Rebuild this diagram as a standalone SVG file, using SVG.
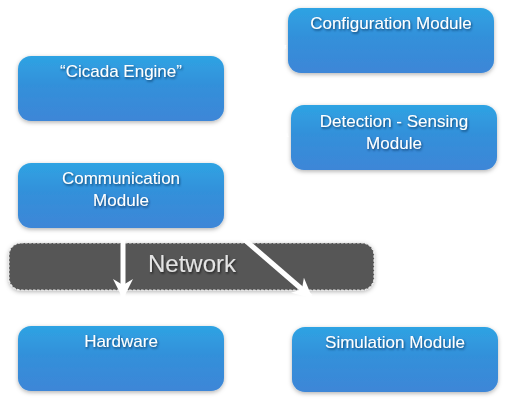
<svg xmlns="http://www.w3.org/2000/svg" width="506" height="401" viewBox="0 0 506 401">
<defs>
<linearGradient id="blue" x1="0" y1="0" x2="0" y2="1">
<stop offset="0" stop-color="#2ea3e3"/>
<stop offset="0.45" stop-color="#3390da"/>
<stop offset="1" stop-color="#3d86d7"/>
</linearGradient>
<filter id="boxShadow" x="-10%" y="-20%" width="120%" height="150%">
<feDropShadow dx="0" dy="1.5" stdDeviation="2.2" flood-color="#000" flood-opacity="0.3"/>
</filter>
<filter id="textShadow" x="-10%" y="-30%" width="120%" height="170%">
<feDropShadow dx="1" dy="1.5" stdDeviation="1" flood-color="#0a2a50" flood-opacity="0.75"/>
</filter>
<filter id="netTextShadow" x="-10%" y="-30%" width="120%" height="170%">
<feDropShadow dx="1" dy="1.5" stdDeviation="1" flood-color="#000" flood-opacity="0.6"/>
</filter>
<marker id="arrow" viewBox="0 0 10 10" refX="9" refY="5" markerWidth="4" markerHeight="4" orient="auto" markerUnits="strokeWidth">
<path d="M0,0 L10,5 L0,10 L3,5 Z" fill="#ffffff"/>
</marker>
</defs>
<style>
.box { fill: url(#blue); filter: url(#boxShadow); }
.lbl { fill: #ffffff; font-family: "Liberation Sans", Arial, sans-serif; font-size: 17px; text-anchor: middle; filter: url(#textShadow); }
.net { fill: #575757; stroke: #e6e6e6; stroke-width: 1.2; stroke-dasharray: 2.5 1.5; filter: url(#boxShadow); }
.netlbl { fill: #e4e4e4; font-family: "Liberation Sans", Arial, sans-serif; font-size: 24px; text-anchor: middle; filter: url(#netTextShadow); }
.conn { stroke: #ffffff; stroke-width: 5; fill: none; marker-end: url(#arrow); }
</style>

<g id="cicada-engine">
<rect class="box" x="18" y="56" width="206" height="65" rx="13"/>
<text class="lbl" x="121" y="77">“Cicada Engine”</text>
</g>
<g id="configuration-module">
<rect class="box" x="288" y="8" width="206" height="65" rx="13"/>
<text class="lbl" x="391" y="29">Configuration Module</text>
</g>
<g id="detection-sensing-module">
<rect class="box" x="291" y="105" width="206" height="65" rx="13"/>
<text class="lbl" x="394" y="127">Detection - Sensing</text>
<text class="lbl" x="394" y="149">Module</text>
</g>
<g id="communication-module">
<rect class="box" x="18" y="163" width="206" height="65" rx="13"/>
<text class="lbl" x="121" y="184">Communication</text>
<text class="lbl" x="121" y="206">Module</text>
</g>
<g id="network">
<rect class="net" x="9" y="243" width="365" height="47" rx="12"/>
<text class="netlbl" x="192" y="272">Network</text>
</g>
<g id="hardware">
<rect class="box" x="18" y="326" width="206" height="65" rx="13"/>
<text class="lbl" x="121" y="347">Hardware</text>
</g>
<g id="simulation-module">
<rect class="box" x="292" y="327" width="206" height="65" rx="13"/>
<text class="lbl" x="395" y="348">Simulation Module</text>
</g>

<g id="connectors">
<line class="conn" x1="229" y1="88" x2="285" y2="46"/>
<line class="conn" x1="229" y1="105" x2="287" y2="136"/>
<line class="conn" x1="123" y1="240" x2="123" y2="297"/>
<line class="conn" x1="238" y1="234" x2="311" y2="297"/>
</g>
</svg>
